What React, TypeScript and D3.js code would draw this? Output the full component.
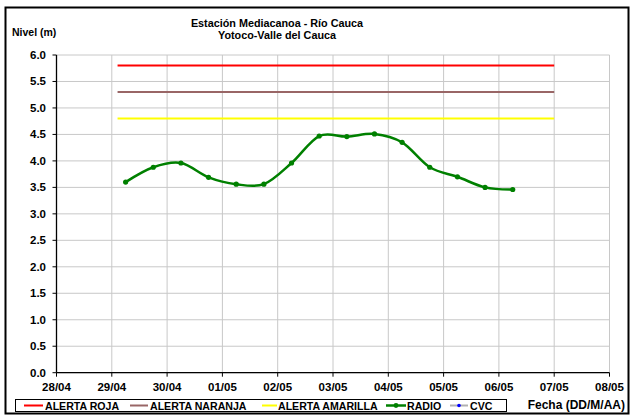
// Nivel del río - Estación Mediacanoa
import * as d3 from 'd3'
import React from 'react'

const radioTimes = [
  '2011-04-29T06:00', '2011-04-29T18:00', '2011-04-30T06:00', '2011-04-30T18:00',
  '2011-05-01T06:00', '2011-05-01T18:00', '2011-05-02T06:00', '2011-05-02T18:00',
  '2011-05-03T06:00', '2011-05-03T18:00', '2011-05-04T06:00', '2011-05-04T18:00',
  '2011-05-05T06:00', '2011-05-05T18:00', '2011-05-06T06:00',
]
const radioLevels = [3.6, 3.88, 3.96, 3.69, 3.56, 3.56, 3.96, 4.47, 4.46, 4.51, 4.35, 3.88, 3.7, 3.5, 3.46]

const alertNames = ['ALERTA ROJA', 'ALERTA NARANJA', 'ALERTA AMARILLA']
const alertLevels = [5.8, 5.3, 4.8]
const alertColors = ['#ff0000', '#996666', '#ffff00']
const alertSpan = ['2011-04-29T02:30', '2011-05-07T00:00']

const dayTicks = ['28/04', '29/04', '30/04', '01/05', '02/05', '03/05', '04/05', '05/05', '06/05', '07/05', '08/05']
const levelTicks = [0, 0.5, 1, 1.5, 2, 2.5, 3, 3.5, 4, 4.5, 5, 5.5, 6]

const W = 634
const H = 415
const font = '"Liberation Sans", Arial, sans-serif'

export default function App() {
  const x = d3.scaleTime()
    .domain([new Date('2011-04-28T00:00'), new Date('2011-05-08T00:00')])
    .range([56.5, 609.5])
  const y = d3.scaleLinear().domain([0, 6]).range([372.7, 55])

  const tickDates = dayTicks.map((_, i) => d3.timeDay.offset(new Date('2011-04-28T00:00'), i))
  const pts = radioTimes.map((t, i) => [x(new Date(t)), y(radioLevels[i])] as [number, number])
  const line = d3.line().curve(d3.curveCatmullRom.alpha(0))(pts) || ''

  const x0 = x.range()[0]
  const x1 = x.range()[1]
  const [yb, yt] = y.range()

  // legend: line sample start, line sample end, text start
  const legendPos = [[24, 43, 45], [130, 148, 150], [262, 277, 278]]

  return (
    <svg width={W} height={H} style={{ position: 'absolute', left: 0, top: 0, fontFamily: font }}>
      <rect x={0} y={0} width={W} height={H} fill="#fff" />
      <rect x={5.5} y={7.5} width={623} height={406} fill="none" stroke="#000" strokeWidth={2} />

      {/* grid */}
      {levelTicks.map((v) => (
        <line key={'h' + v} x1={x0} x2={x1} y1={y(v)} y2={y(v)} stroke="#c8c8c8" strokeWidth={1} />
      ))}
      {tickDates.map((d, i) => (
        <line key={'v' + i} x1={x(d)} x2={x(d)} y1={yt} y2={yb} stroke="#c8c8c8" strokeWidth={1} />
      ))}

      {/* alerts */}
      {alertLevels.map((v, i) => (
        <line key={'a' + i} x1={x(new Date(alertSpan[0]))} x2={x(new Date(alertSpan[1]))}
          y1={y(v)} y2={y(v)} stroke={alertColors[i]} strokeWidth={2} />
      ))}

      {/* radio series */}
      <path d={line} fill="none" stroke="#008000" strokeWidth={2.5} />
      {pts.map((p, i) => (
        <circle key={'p' + i} cx={p[0]} cy={p[1]} r={2.6} fill="#008000" />
      ))}

      {/* axes */}
      <line x1={x0} x2={x0} y1={yt} y2={yb} stroke="#000" strokeWidth={1.3} />
      <line x1={x0} x2={x1} y1={yb} y2={yb} stroke="#000" strokeWidth={1.3} />
      {levelTicks.map((v) => (
        <g key={'yt' + v}>
          <line x1={x0 - 4} x2={x0} y1={y(v)} y2={y(v)} stroke="#000" />
          <text x={46} y={y(v) + 4} textAnchor="end" fontSize={11.5} fontWeight="bold">{v.toFixed(1)}</text>
        </g>
      ))}
      {tickDates.map((d, i) => (
        <g key={'xt' + i}>
          <line x1={x(d)} x2={x(d)} y1={yb} y2={yb + 4} stroke="#000" />
          <text x={x(d)} y={391} textAnchor="middle" fontSize={11.5} fontWeight="bold">{dayTicks[i]}</text>
        </g>
      ))}

      {/* titles */}
      <text x={277} y={27} textAnchor="middle" fontSize={10.8} fontWeight="bold">Estación Mediacanoa - Río Cauca</text>
      <text x={277} y={38.5} textAnchor="middle" fontSize={10.8} fontWeight="bold">Yotoco-Valle del Cauca</text>
      <text x={12} y={36} fontSize={10.5} fontWeight="bold">Nivel (m)</text>
      <text x={625} y={409} textAnchor="end" fontSize={12} fontWeight="bold">Fecha (DD/M/AA)</text>

      {/* legend */}
      <rect x={15.5} y={399.5} width={491} height={12} fill="#fff" stroke="#000" strokeWidth={1} />
      {alertNames.map((n, i) => (
        <g key={'l' + i}>
          <line x1={legendPos[i][0]} x2={legendPos[i][1]} y1={405.5} y2={405.5} stroke={alertColors[i]} strokeWidth={2} />
          <text x={legendPos[i][2]} y={409.5} fontSize={10.6} fontWeight="bold">{n}</text>
        </g>
      ))}
      <line x1={386} x2={406} y1={405.5} y2={405.5} stroke="#008000" strokeWidth={2.5} />
      <circle cx={396} cy={405.5} r={2.4} fill="#008000" />
      <text x={407} y={409.5} fontSize={10.6} fontWeight="bold">RADIO</text>
      <line x1={450} x2={468} y1={405.5} y2={405.5} stroke="#b0b0b0" strokeWidth={2} />
      <circle cx={459} cy={405.5} r={1.8} fill="#0000ff" />
      <text x={470} y={409.5} fontSize={10.6} fontWeight="bold">CVC</text>
    </svg>
  )
}
